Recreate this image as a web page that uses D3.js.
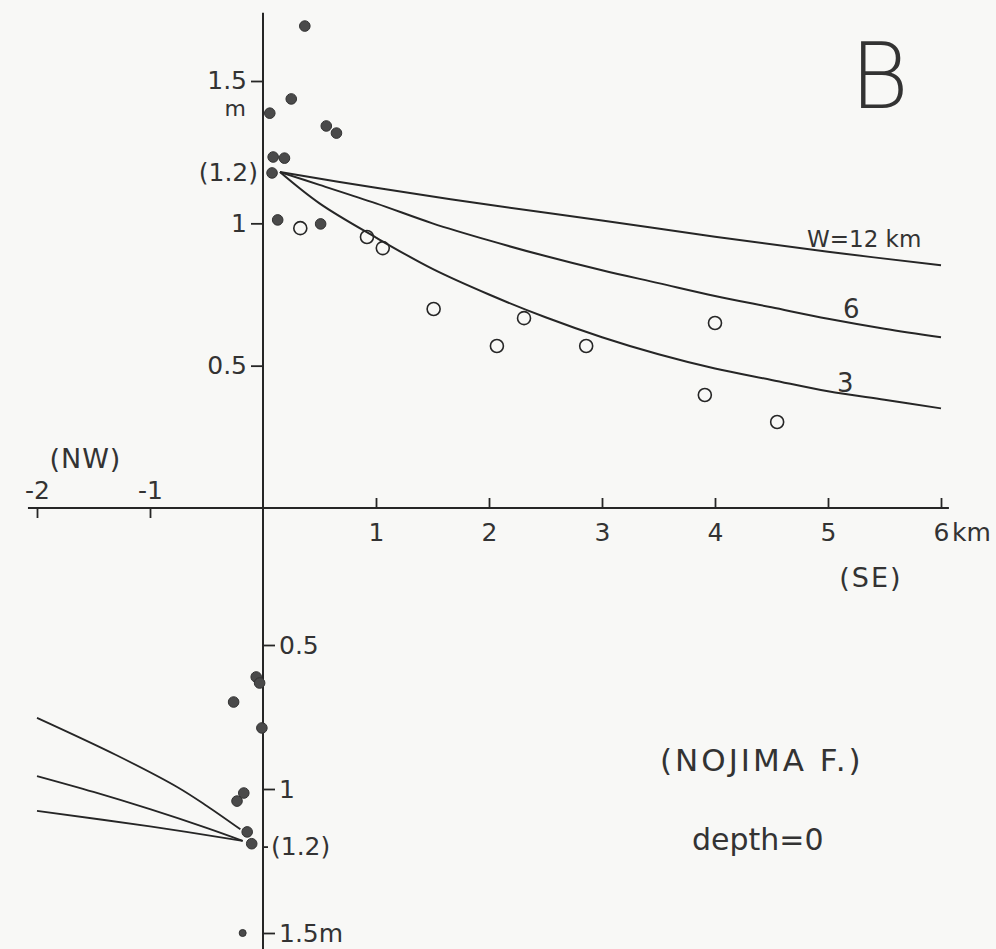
<!DOCTYPE html>
<html>
<head>
<meta charset="utf-8">
<script src="https://cdn.jsdelivr.net/npm/d3@7/dist/d3.min.js"></script>
<style>
  html, body { margin: 0; padding: 0; background: #f8f8f6; }
  svg text { font-family: "DejaVu Sans", "Liberation Sans", sans-serif; font-weight: 400; fill: #333; }
</style>
</head>
<body>
<div id="chart"></div>
<script>
// ---------- DATA ----------
// SE side (upper panel): uplift in m vs distance in km
const seFilled = [[0.37,1.693],[0.25,1.437],[0.06,1.387],[0.56,1.342],[0.65,1.317],
                  [0.09,1.233],[0.19,1.229],[0.08,1.177],[0.13,1.012],[0.51,0.998]];
const seOpen = [[0.33,0.983],[0.92,0.952],[1.06,0.913],[1.51,0.699],[2.31,0.667],
                [2.07,0.569],[2.86,0.569],[4.0,0.650],[3.91,0.397],[4.55,0.302]];
const seW12 = [[0.15,1.18],[1,1.125],[2,1.065],[3,1.01],[4,0.953],[5,0.90],[6,0.853]];
const seW6  = [[0.15,1.18],[0.5,1.135],[1,1.07],[1.5,1.0],[2,0.94],[2.5,0.885],[3,0.835],
               [3.5,0.79],[4,0.745],[4.5,0.705],[5,0.665],[5.5,0.63],[6,0.60]];
const seW3  = [[0.15,1.18],[0.5,1.07],[1,0.95],[1.5,0.84],[2,0.75],[2.5,0.67],[3,0.60],
               [3.5,0.54],[4,0.49],[4.5,0.45],[5,0.41],[5.5,0.38],[6,0.35]];
// NW side (lower panel, mirrored axis)
const nwFilled = [[-0.06,0.611],[-0.03,0.632],[-0.26,0.698],[-0.01,0.788],[-0.17,1.014],
                  [-0.23,1.042],[-0.14,1.149],[-0.10,1.19],[-0.18,1.50]];
const nwW3  = [[-0.2,1.14],[-0.5,1.058],[-0.76,0.993],[-1.3,0.882],[-2,0.753]];
const nwW6  = [[-0.18,1.18],[-0.5,1.135],[-1,1.07],[-1.5,1.01],[-2,0.955]];
const nwW12 = [[-0.18,1.18],[-1,1.13],[-2,1.076]];
// tick labels
const xPosTicks = [1,2,3,4,5,6];
const xPosLabels = ["1","2","3","4","5","6"];
const xNegTicks = [-2,-1];
const xNegLabels = ["-2","-1"];
const yUpTicks = [0.5,1,1.5];
const yUpLabels = ["0.5","1","1.5"];
const yLowTicks = [0.5,1,1.2,1.5];
const yLowLabels = ["0.5","1","(1.2)","1.5m"];
const curveLabels = ["W=12 km","6","3"];

// ---------- CHART ----------
const W = 996, H = 949;
const ink = "#262626";
const txt = "#303030";
const svg = d3.select("#chart").append("svg").attr("width", W).attr("height", H);
svg.append("rect").attr("width", W).attr("height", H).attr("fill", "#f8f8f6");

const x = d3.scaleLinear().domain([0, 6]).range([263, 941]);
const yUp = d3.scaleLinear().domain([0, 1.5]).range([508, 81]);
const yLow = d3.scaleLinear().domain([0.5, 1.5]).range([645, 933]);

// axis lines
svg.append("line").attr("x1", x(-2.08)).attr("x2", x(6.07))
  .attr("y1", yUp(0)).attr("y2", yUp(0)).attr("stroke", ink).attr("stroke-width", 2);
svg.append("line").attr("x1", x(0)).attr("x2", x(0))
  .attr("y1", yUp(1.74)).attr("y2", H).attr("stroke", ink).attr("stroke-width", 2);

function styleAxis(g, fs) {
  g.select(".domain").remove();
  g.selectAll(".tick line").attr("stroke", ink).attr("stroke-width", 1.8);
  g.selectAll(".tick text").attr("fill", txt).style("font-size", fs + "px")
    .style("font-family", "'DejaVu Sans', sans-serif").style("font-weight", 400);
}

// positive x axis: ticks upward, labels below
const gxp = svg.append("g").attr("transform", `translate(0,${yUp(0)})`)
  .call(d3.axisBottom(x).tickValues(xPosTicks).tickSize(-10).tickPadding(15)
    .tickFormat((d, i) => xPosLabels[i]));
styleAxis(gxp, 25);
// negative x axis: ticks downward, labels above
const gxn = svg.append("g").attr("transform", `translate(0,${yUp(0)})`)
  .call(d3.axisTop(x).tickValues(xNegTicks).tickSize(-10).tickPadding(9)
    .tickFormat((d, i) => xNegLabels[i]));
styleAxis(gxn, 25);

// upper y axis
const gyu = svg.append("g").attr("transform", `translate(${x(0)},0)`)
  .call(d3.axisLeft(yUp).tickValues(yUpTicks).tickSize(12).tickPadding(4)
    .tickFormat((d, i) => yUpLabels[i]));
styleAxis(gyu, 25);
gyu.selectAll(".tick").filter(d => d === 1.5).select("text").attr("dy", "0.3em");

// lower y axis
const gyl = svg.append("g").attr("transform", `translate(${x(0)},0)`)
  .call(d3.axisRight(yLow).tickValues(yLowTicks).tickSize(12).tickPadding(4)
    .tickFormat((d, i) => yLowLabels[i]));
styleAxis(gyl, 25);
gyl.selectAll(".tick").filter(d => d === 1.2).select("line").attr("x2", 5);
gyl.selectAll(".tick").filter(d => d === 1.2).select("text").attr("x", 8);

// extra labels on upper y axis
svg.append("text").attr("x", x(0) - 5).attr("y", yUp(1.2) + 15)
  .attr("text-anchor", "end").style("font-size", "25px").attr("fill", txt).text("(1.2)");
svg.append("text").attr("x", x(0) - 17).attr("y", yUp(1.5) + 35)
  .attr("text-anchor", "end").style("font-size", "22px").attr("fill", txt).text("m");
svg.append("text").attr("x", x(6)).attr("y", yUp(0) + 33)
  .attr("text-anchor", "start").style("font-size", "25px").attr("fill", txt).text("km")
  .attr("dx", 11);
svg.append("text").attr("x", x(5.1)).attr("y", yUp(0) + 79)
  .style("font-size", "27px").attr("fill", txt).attr("letter-spacing", 2).text("(SE)");
svg.append("text").attr("x", x(-1.89)).attr("y", yUp(0) - 40)
  .style("font-size", "27px").attr("fill", txt).attr("letter-spacing", 1).text("(NW)");

// curves
const line = (sx, sy) => d3.line().x(d => sx(d[0])).y(d => sy(d[1])).curve(d3.curveCatmullRom);
const lUp = line(x, yUp), lLow = line(x, yLow);
[seW12, seW6, seW3].forEach(c => svg.append("path").attr("d", lUp(c))
  .attr("fill", "none").attr("stroke", ink).attr("stroke-width", 2));
[nwW3, nwW6, nwW12].forEach(c => svg.append("path").attr("d", lLow(c))
  .attr("fill", "none").attr("stroke", ink).attr("stroke-width", 1.8));

// curve labels
svg.append("text").attr("x", 807).attr("y", 247)
  .style("font-size", "23px").attr("fill", txt).text(curveLabels[0]);
svg.append("text").attr("x", 843).attr("y", 318)
  .style("font-size", "26px").attr("fill", txt).text(curveLabels[1]);
svg.append("text").attr("x", 837).attr("y", 392)
  .style("font-size", "26px").attr("fill", txt).text(curveLabels[2]);

// points
svg.append("g").selectAll("circle").data(seFilled).join("circle")
  .attr("cx", d => x(d[0])).attr("cy", d => yUp(d[1])).attr("r", 5.3)
  .attr("fill", "#4a4a4a").attr("stroke", "#333").attr("stroke-width", 1);
svg.append("g").selectAll("circle").data(seOpen).join("circle")
  .attr("cx", d => x(d[0])).attr("cy", d => yUp(d[1])).attr("r", 6.5)
  .attr("fill", "none").attr("stroke", ink).attr("stroke-width", 1.6);
svg.append("g").selectAll("circle").data(nwFilled).join("circle")
  .attr("cx", d => x(d[0])).attr("cy", d => yLow(d[1])).attr("r", (d, i) => i === nwFilled.length - 1 ? 3.5 : 5.3)
  .attr("fill", "#4a4a4a").attr("stroke", "#333").attr("stroke-width", 1);

// panel letter and annotations
svg.append("text").attr("x", 850).attr("y", 108)
  .style("font-size", "90px").style("font-weight", 200).attr("fill", ink).text("B");
svg.append("text").attr("x", 660).attr("y", 771)
  .style("font-size", "31px").attr("letter-spacing", 3).attr("fill", txt).text("(NOJIMA F.)");
svg.append("text").attr("x", 692).attr("y", 850)
  .style("font-size", "30px").attr("fill", txt).text("depth=0");
</script>
</body>
</html>
